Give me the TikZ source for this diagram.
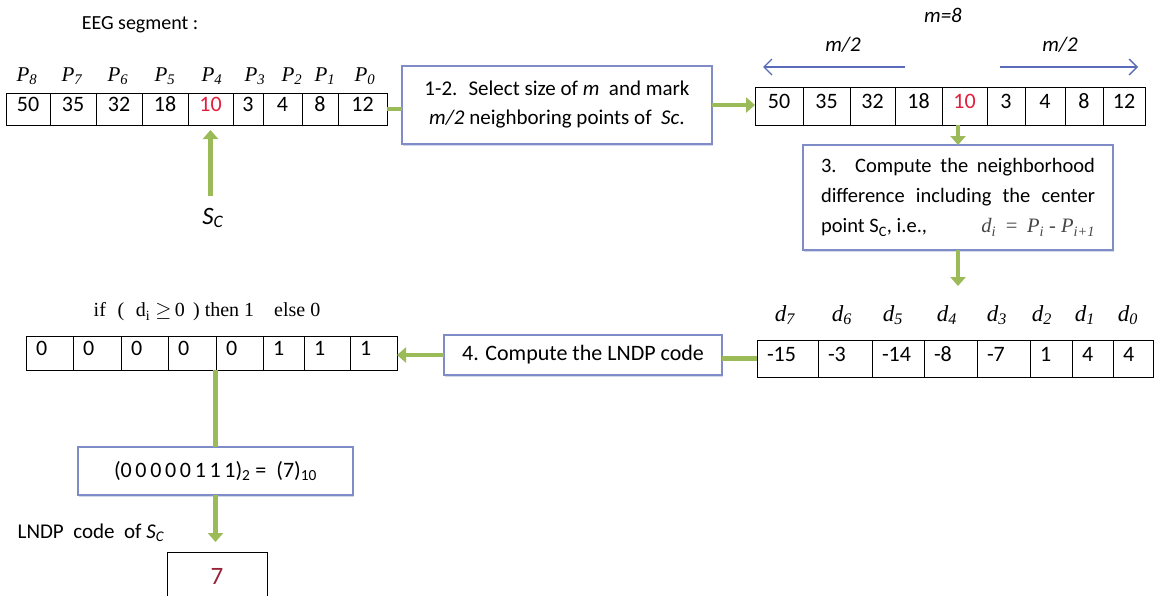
\documentclass[tikz,border=0pt]{standalone}
\usepackage{fontspec}
\setmainfont{Carlito}
\newfontfamily\labserif{Liberation Serif}
\usetikzlibrary{arrows.meta,shadows}

\definecolor{flowgreen}{RGB}{155,187,89}
\definecolor{stepblue}{RGB}{128,140,200}
\definecolor{spanblue}{RGB}{90,108,185}
\definecolor{centred}{RGB}{225,30,60}
\definecolor{codered}{RGB}{150,35,55}
\definecolor{formgrey}{RGB}{70,70,70}

% italic serif symbol with italic subscript, e.g. P_8, d_7
\newcommand\ilab[2]{{\labserif\itshape #1\textsubscript{#2}}}

\tikzset{
  every node/.style={font=\fontsize{20}{24}\selectfont, inner sep=0pt, outer sep=0pt},
  cell/.style={draw=black, line width=0.8pt, font=\fontsize{22}{26}\selectfont,
    text height=1.45ex, text depth=0.2ex},
  lcell/.style={cell, inner xsep=10pt, align=left},
  stepbox/.style={draw=stepblue, line width=1.3pt, fill=white,
    drop shadow={shadow xshift=0.8pt, shadow yshift=-2pt, opacity=0.35, fill=stepblue},
    font=\fontsize{21}{29}\selectfont, align=center},
  plainbox/.style={draw=black, line width=1pt},
  lab/.style={font=\fontsize{21}{24}\selectfont},
  mlab/.style={font=\fontsize{21}{24}\selectfont\itshape},
  garrow/.style={draw=flowgreen, line width=4.5pt, -{Triangle[length=9pt,width=15pt]}},
  gline/.style={draw=flowgreen, line width=4.5pt},
  barrow/.style={draw=spanblue, line width=1.4pt, -{Straight Barb[length=8pt,width=16pt]}},
}

\begin{document}
\begin{tikzpicture}[x=1pt,y=-1pt]
\useasboundingbox (0,0) rectangle (1155,595);

% ---------- input segment ----------
\node (eeg) at (140,25) {EEG segment :};

\foreach \t/\x [count=\i] in {8/27,7/72,6/118,5/165,4/212,3/255,2/292,1/325,0/365}
  \node[lab] (p\i) at (\x,76) {\ilab{P}{\t}};

\foreach \a/\b/\t [count=\i] in {6/50/50,50/96/35,96/142/32,142/188/18,
    188/233/{\textcolor{centred}{10}},233/263/3,263/302/4,302/338/8,338/387/12}
  \node[cell, minimum width={\b-\a}, minimum height=32] (l\i) at ({(\a+\b)/2},109) {\t};

\node[font=\fontsize{25}{28}\selectfont] (sc) at (213,218) {\textit{S}\textsubscript{\textit{C}}};
\draw[garrow, shorten <=12pt, shorten >=5pt] (l5.south |- sc.north) -- (l5.south);

% ---------- step 1-2 ----------
\node[stepbox, minimum width=310, minimum height=78] (b12) at (557,105)
  {1-2.~ Select size of \textit{m}~ and mark\\\textit{m/2} neighboring points of~ \textit{Sc}.};
\draw[gline] (l9.east) -- (l9.east -| b12.west);

% ---------- window of size m ----------
\node[mlab] (m8) at (943,15) {m=8};
\node[mlab] (mhl) at (843,45) {m/2};
\node[mlab] (mhr) at (1060,45) {m/2};
\coordinate (la1) at (905,67);
\coordinate (la2) at (763,67);
\coordinate (ra1) at (1000,67);
\coordinate (ra2) at (1138,67);
\draw[barrow] (la1) -- (la2);
\draw[barrow] (ra1) -- (ra2);

\foreach \a/\b/\t [count=\i] in {755/803/50,803/850/35,850/895/32,895/942/18,
    942/987/{\textcolor{centred}{10}},987/1025/3,1025/1065/4,1065/1103/8,1103/1145/12}
  \node[cell, minimum width={\b-\a}, minimum height=38] (r\i) at ({(\a+\b)/2},106) {\t};
\draw[garrow] (b12.east) -- (b12.east -| r1.west);

% ---------- step 3 ----------
\node[stepbox, minimum width=310, minimum height=105, text width=274, align=justify,
      font=\fontsize{20.5}{30}\selectfont] (b3) at (958,197.5)
  {3. Compute the neighborhood\linebreak
   difference including the center\linebreak
   point S\textsubscript{C}, i.e.,\hskip 0pt plus 1filll
   {\color{formgrey}\labserif\itshape d\textsubscript{i}\, =\, P\textsubscript{i} - P\textsubscript{i+1}}};
\draw[garrow] (r5.south -| b3.north) -- (b3.north);
\coordinate (dtip) at (958,286);
\draw[garrow] (b3.south) -- (dtip);

% ---------- differences ----------
\foreach \t/\x [count=\i] in {7/785,6/842,5/893,4/947,3/997,2/1042,1/1085,0/1128}
  \node[font=\fontsize{23}{26}\selectfont] (dl\i) at (\x,315) {\ilab{d}{\t}};

\foreach \a/\b/\t [count=\i] in {757/818/-15,818/872/-3,872/924/-14,924/977/-8,
    977/1030/-7,1030/1072/1,1072/1113/4,1113/1153/4} {
  \pgfmathsetmacro\w{\b-\a-20}
  \node[lcell, text width=\w pt, minimum height=37] (d\i) at ({(\a+\b)/2},358.5) {\t};
}

% ---------- step 4 ----------
\node[stepbox, minimum width=278, minimum height=40, font=\fontsize{22}{26}\selectfont]
  (b4) at (583,355) {4. Compute the LNDP code};
\draw[gline] (d1.west) -- (d1.west -| b4.east);

\node[font=\labserif\fontsize{20}{24}\selectfont] (cond) at (207,312)
  {if\,\, (\,\, d\textsubscript{i} \(\geq\)\,0\, ) then 1\quad else 0};

\foreach \a/\b/\t [count=\i] in {26/73/0,73/121/0,121/168/0,168/216/0,
    216/263/0,263/304/1,304/350/1,350/397/1} {
  \pgfmathsetmacro\w{\b-\a-20}
  \node[lcell, text width=\w pt, minimum height=34] (z\i) at ({(\a+\b)/2},353) {\t};
}
\draw[garrow] (b4.west) -- (b4.west -| z8.east);

% ---------- conversion to decimal ----------
\node[stepbox, minimum width=275, minimum height=48, font=\fontsize{22}{26}\selectfont]
  (b5) at (215.5,471)
  {(0\,0\,0\,0\,0\,1\,1\,1)\textsubscript{2} =~ (7)\textsubscript{10}};
\draw[gline] (b5.north |- z1.south) -- (b5.north);

\node[font=\fontsize{21}{24}\selectfont] (lndp) at (91,533)
  {LNDP~ code~ of \textit{S}\textsubscript{\textit{C}}};
\node[plainbox, minimum width=100, minimum height=48, text=codered,
      font=\fontsize{25}{28}\selectfont] (b7) at (217,576) {7};
\draw[garrow, shorten >=10pt] (b5.south) -- (b5.south |- b7.north);

\end{tikzpicture}
\end{document}
